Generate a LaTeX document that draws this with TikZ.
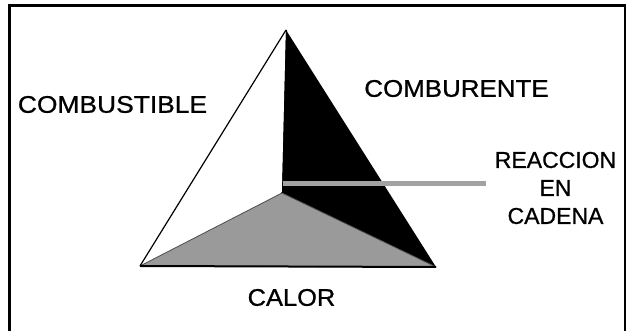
\documentclass[tikz,border=0pt]{standalone}
\usepackage{fontspec}
\setmainfont{Liberation Sans}
\newfontfamily\lblfont[FakeBold=0.8]{Liberation Sans}
\definecolor{facegray}{HTML}{9A9A9A}
\definecolor{linegray}{HTML}{A2A2A2}
\begin{document}
\begin{tikzpicture}[x=1pt,y=-1pt,
  lbl/.style={inner sep=0pt, font=\lblfont\fontsize{24}{28}\selectfont, text=black, align=center},
  frame/.style={line width=2.6pt, draw=black}]
\useasboundingbox (0,0) rectangle (630,331);
\fill[white] (0,0) rectangle (630,331);
% outer frame (open at bottom)
\draw[frame] (9.5,332) -- (9.5,5.5) -- (625,5.5) -- (625,332);
% pyramid vertices
\coordinate (apex) at (286,30);
\coordinate (bl) at (140,266);
\coordinate (br) at (436,267);
\coordinate (in) at (282,193);
% black face
\fill[black] (apex) -- (br) -- (in) -- cycle;
\fill[black] (286,30) -- (287,30) -- (287,185) -- (281,193) -- (in) -- cycle;
% gray face
\fill[facegray, draw=black!70, line width=0.8pt, line join=round] (bl) -- (in) -- (br) -- cycle;
\draw[black, line width=2pt] (bl) -- (br);
% left edge
\draw[black, line width=1.2pt] (apex) -- (bl);
% labels
\node[lbl] (comb) at (112.5,104.5) {\scalebox{1.1}[1]{COMBUSTIBLE}};
\node[lbl] (combu) at (456.5,88.5) {\scalebox{1.08}[1]{COMBURENTE}};
\node[lbl] (calor) at (291.5,297.5) {\scalebox{1.06}[1]{CALOR}};
\node[lbl, font=\lblfont\fontsize{23}{28}\selectfont] (reac) at (555.5,188) {REACCION\\EN\\CADENA};
% reaction line
\coordinate (rs) at (283,183.5);
\coordinate (re) at (486,183.5);
\draw[linegray, line width=5pt] (rs) -- (re);
\end{tikzpicture}
\end{document}
